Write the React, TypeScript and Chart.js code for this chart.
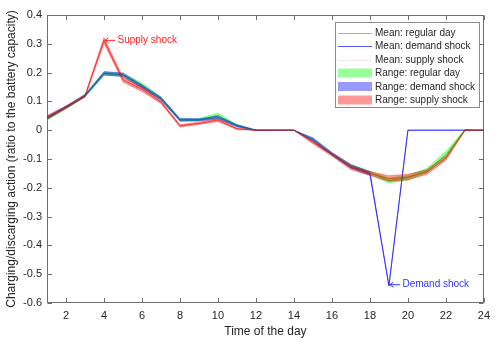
import React, { useEffect, useRef } from "react";
import { Chart, registerables } from "chart.js";

Chart.register(...registerables);

// ---------- data ----------
const hours = [1, 2, 3, 4, 5, 6, 7, 8, 9, 10, 11, 12, 13, 14, 15, 16, 17, 18, 19, 20, 21, 22, 23, 24];

const regularMean = [0.040, 0.078, 0.120, 0.198, 0.192, 0.156, 0.110, 0.036, 0.036, 0.052, 0.015, 0, 0, 0, -0.033, -0.082, -0.125, -0.148, -0.175, -0.165, -0.140, -0.085, 0, 0];
const demandMean = [0.043, 0.080, 0.120, 0.197, 0.193, 0.152, 0.110, 0.036, 0.036, 0.044, 0.016, 0, 0, 0, -0.032, -0.082, -0.125, -0.150, -0.540, 0, 0, 0, 0, 0];
const supplyMean = [0.045, 0.080, 0.118, 0.312, 0.175, 0.142, 0.098, 0.015, 0.024, 0.035, 0.005, 0, 0, 0, -0.042, -0.085, -0.130, -0.150, -0.168, -0.163, -0.145, -0.097, 0, 0];

// half-width of the min/max range around each mean
const regularSpread = [0.006, 0.005, 0.004, 0.006, 0.006, 0.008, 0.005, 0.004, 0.004, 0.008, 0.004, 0.001, 0, 0, 0.004, 0.004, 0.006, 0.006, 0.008, 0.008, 0.008, 0.012, 0.002, 0];
const demandSpread = [0.005, 0.004, 0.004, 0.006, 0.006, 0.006, 0.005, 0.005, 0.004, 0.005, 0.004, 0.001, 0, 0, 0.006, 0.005, 0.006, 0.006, 0, 0, 0, 0, 0, 0];
const supplySpread = [0.006, 0.004, 0.004, 0.010, 0.008, 0.008, 0.005, 0.004, 0.004, 0.005, 0.003, 0.001, 0, 0, 0.005, 0.005, 0.007, 0.007, 0.010, 0.010, 0.008, 0.007, 0.002, 0];

const xTicks = [2, 4, 6, 8, 10, 12, 14, 16, 18, 20, 22, 24];
const yTicks = [-0.6, -0.5, -0.4, -0.3, -0.2, -0.1, 0, 0.1, 0.2, 0.3, 0.4];

const legendLabels = [
  "Mean: regular day",
  "Mean: demand shock",
  "Mean: supply shock",
  "Range: regular day",
  "Range: demand shock",
  "Range: supply shock",
];

const annotationLabels = ["Supply shock", "Demand shock"];

// ---------- styles ----------
const FONT = "'Liberation Sans', Arial, Helvetica, sans-serif";
const TEXT = "#262626";
const AXIS = "#6e6e6e";

const lineColors = ["rgba(0,210,0,0.7)", "rgba(60,60,255,0.75)", "rgba(255,30,30,0.75)"];
const legendLineColors = ["#66e066", "#5555f0", "#f6e4ea"];
const bandColors = ["rgba(0,255,0,0.4)", "rgba(0,0,255,0.4)", "rgba(255,0,0,0.4)"];
const legendPatchColors = ["#99ff99", "#9999ff", "#ff9999"];

export default function App() {
  const ref = useRef<HTMLCanvasElement>(null);

  useEffect(() => {
    const canvas = ref.current;
    if (!canvas) return;

    const pts = (arr: number[]) => arr.map((v, i) => ({ x: hours[i], y: v }));
    const shift = (mean: number[], spread: number[], s: number) => mean.map((m, i) => m + s * spread[i]);

    const means = [regularMean, demandMean, supplyMean];
    const spreads = [regularSpread, demandSpread, supplySpread];

    const datasets: any[] = [];
    for (let k = 0; k < 3; k++) {
      const ord = 2 - k; // supply band on top
      datasets.push({
        label: "upper" + k,
        data: pts(shift(means[k], spreads[k], 1)),
        borderColor: bandColors[k],
        borderWidth: 0.8,
        pointRadius: 0,
        fill: false,
        order: ord,
      });
      datasets.push({
        label: "lower" + k,
        data: pts(shift(means[k], spreads[k], -1)),
        borderColor: bandColors[k],
        backgroundColor: bandColors[k],
        borderWidth: 0.8,
        pointRadius: 0,
        fill: "-1",
        order: ord,
      });
    }
    for (let k = 0; k < 3; k++) {
      datasets.push({
        label: legendLabels[k],
        data: pts(means[k]),
        borderColor: lineColors[k],
        borderWidth: 1,
        pointRadius: 0,
        fill: false,
        order: 5 - k,
      });
    }

    const boxPlugin = {
      id: "matlabBox",
      beforeDatasetsDraw(chart: any) {
        const { ctx, chartArea: a, scales } = chart;
        ctx.save();
        ctx.strokeStyle = AXIS;
        ctx.lineWidth = 1;
        const L = Math.round(a.left) + 0.5;
        const R = Math.round(a.right) - 0.5;
        const T = Math.round(a.top) + 0.5;
        const B = Math.round(a.bottom) - 0.5;
        ctx.strokeRect(L, T, R - L, B - T);
        ctx.beginPath();
        const tl = 4.5;
        xTicks.forEach((v) => {
          const x = Math.round(scales.x.getPixelForValue(v)) + 0.5;
          ctx.moveTo(x, B);
          ctx.lineTo(x, B - tl);
          ctx.moveTo(x, T);
          ctx.lineTo(x, T + tl);
        });
        yTicks.forEach((v) => {
          const y = Math.round(scales.y.getPixelForValue(v)) + 0.5;
          ctx.moveTo(L, y);
          ctx.lineTo(L + tl, y);
          ctx.moveTo(R, y);
          ctx.lineTo(R - tl, y);
        });
        ctx.stroke();
        ctx.restore();
      },
    };

    const drawArrowLabel = (ctx: any, x: number, y: number, label: string, color: string) => {
      ctx.strokeStyle = color;
      ctx.fillStyle = color;
      ctx.lineWidth = 1;
      ctx.beginPath();
      ctx.moveTo(x + 1, y);
      ctx.lineTo(x + 11, y);
      ctx.moveTo(x + 1, y);
      ctx.lineTo(x + 4.5, y - 2.5);
      ctx.moveTo(x + 1, y);
      ctx.lineTo(x + 4.5, y + 2.5);
      ctx.stroke();
      ctx.fillText(label, x + 13.5, y);
    };

    const overlayPlugin = {
      id: "overlay",
      afterDraw(chart: any) {
        const { ctx, scales } = chart;
        ctx.save();
        ctx.font = `10px ${FONT}`;
        ctx.textBaseline = "middle";
        ctx.textAlign = "left";
        const sx = scales.x.getPixelForValue(hours[3]);
        const sy = scales.y.getPixelForValue(supplyMean[3]);
        drawArrowLabel(ctx, sx, sy, annotationLabels[0], "#ff2020");
        const dx = scales.x.getPixelForValue(hours[18]);
        const dy = scales.y.getPixelForValue(demandMean[18]);
        drawArrowLabel(ctx, dx, dy - 1, annotationLabels[1], "#3333ff");

        // legend
        const bx = 335.5, by = 22.5, bw = 144, bh = 85;
        ctx.fillStyle = "#ffffff";
        ctx.fillRect(bx, by, bw, bh);
        ctx.strokeStyle = "#8c8c8c";
        ctx.lineWidth = 1;
        ctx.strokeRect(bx, by, bw, bh);
        const rowH = 13.5;
        const y0 = 32.5;
        legendLabels.forEach((lab, i) => {
          const cy = y0 + i * rowH;
          if (i < 3) {
            ctx.strokeStyle = legendLineColors[i];
            ctx.beginPath();
            ctx.moveTo(338, Math.round(cy) + 0.5);
            ctx.lineTo(372, Math.round(cy) + 0.5);
            ctx.stroke();
          } else {
            ctx.fillStyle = legendPatchColors[i - 3];
            ctx.fillRect(338, cy - 4.5, 34, 9);
          }
          ctx.fillStyle = TEXT;
          ctx.fillText(lab, 375, cy + 0.5);
        });
        ctx.restore();
      },
    };

    const chart = new Chart(canvas, {
      type: "line",
      data: { datasets },
      plugins: [boxPlugin, overlayPlugin],
      options: {
        animation: false,
        responsive: false,
        devicePixelRatio: 1,
        layout: { padding: { top: 15, right: 8, left: 0, bottom: 0 } },
        elements: { line: { tension: 0 } },
        plugins: {
          legend: { display: false },
          tooltip: { enabled: false },
          filler: { propagate: false },
        },
        scales: {
          x: {
            type: "linear",
            min: 1,
            max: 24,
            grid: { display: false, drawTicks: false },
            border: { display: false },
            afterBuildTicks: (axis: any) => {
              axis.ticks = xTicks.map((v) => ({ value: v }));
            },
            afterFit: (s: any) => {
              s.height = 35;
            },
            ticks: {
              padding: 6,
              maxRotation: 0,
              autoSkip: false,
              color: TEXT,
              font: { family: FONT, size: 11 },
              callback: (v: any) => String(v),
            },
            title: {
              display: true,
              text: "Time of the day",
              color: TEXT,
              font: { family: FONT, size: 12, lineHeight: 1 },
              padding: { top: 0, bottom: 0 },
            },
          },
          y: {
            type: "linear",
            min: -0.6,
            max: 0.4,
            grid: { display: false, drawTicks: false },
            border: { display: false },
            afterBuildTicks: (axis: any) => {
              axis.ticks = yTicks.map((v) => ({ value: v }));
            },
            afterFit: (s: any) => {
              s.width = 47;
            },
            ticks: {
              padding: 5,
              autoSkip: false,
              color: TEXT,
              font: { family: FONT, size: 11 },
              callback: (v: any) => String(v),
            },
            title: {
              display: true,
              text: "Charging/discarging action (ratio to the battery capacity)",
              color: TEXT,
              font: { family: FONT, size: 12, lineHeight: 1 },
              padding: { top: 6, bottom: 0 },
            },
          },
        },
      } as any,
    });

    return () => chart.destroy();
  }, []);

  return (
    <div style={{ position: "fixed", left: 0, top: 0, width: 496, height: 338, background: "#fff" }}>
      <canvas ref={ref} width={496} height={338} style={{ display: "block", width: 496, height: 338 }} />
    </div>
  );
}
